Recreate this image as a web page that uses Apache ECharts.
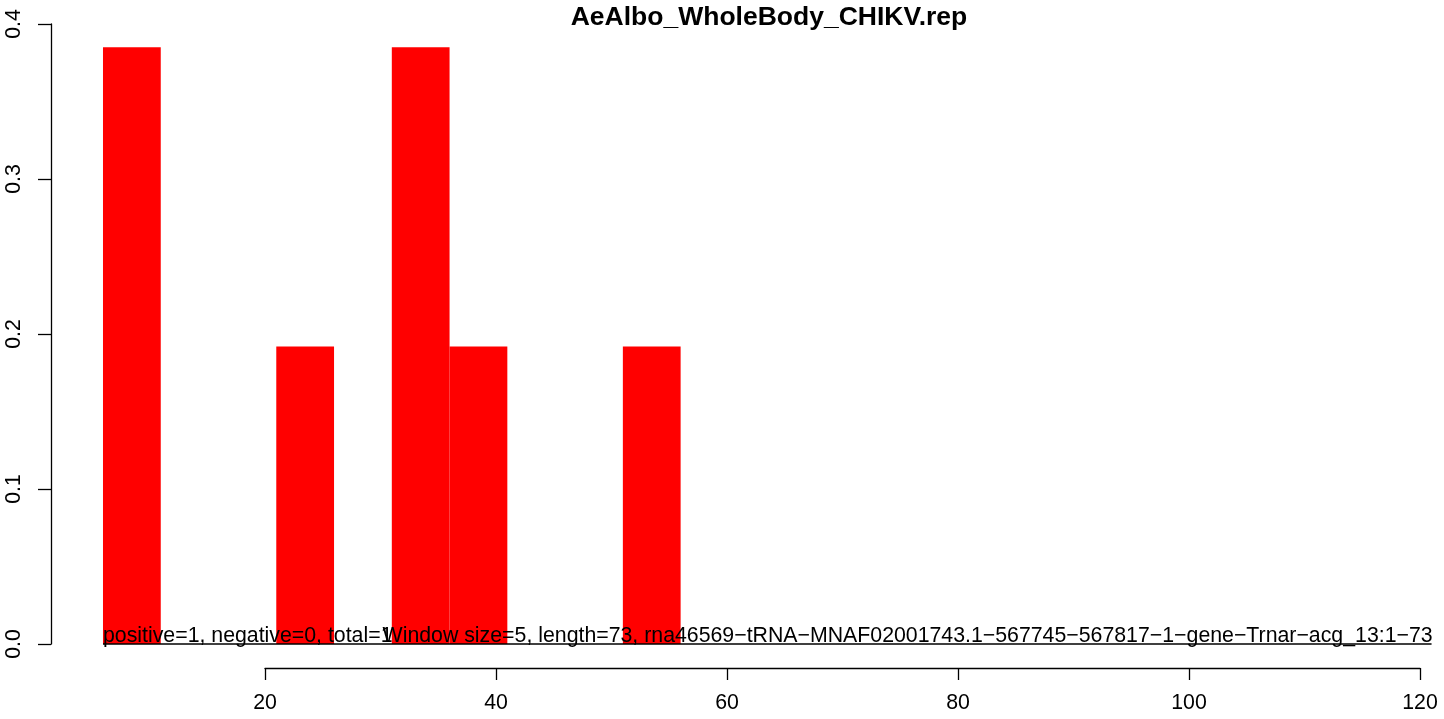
<!DOCTYPE html>
<html>
<head>
<meta charset="utf-8">
<script src="https://cdn.jsdelivr.net/npm/echarts@6/dist/echarts.min.js"></script>
<style>
  html, body { margin: 0; padding: 0; background: #fff; }
  #main { width: 1444px; height: 719px; }
</style>
</head>
<body>
<div id="main"></div>
<script>
// histogram bins (window size 5)
const binStart = [6, 21, 31, 36, 51];
const binWidth = 5;
const binHeight = [0.385, 0.192, 0.385, 0.192, 0.192];
const xTicks = [20, 40, 60, 80, 100, 120];
const yTicks = [0, 0.1, 0.2, 0.3, 0.4];
const baseLine = [[6, 121, 0]];
const title = 'AeAlbo_WholeBody_CHIKV.rep';
const note1 = 'positive=1, negative=0, total=1';
const note1X = 6;
const note2 = 'Window size=5, length=73, rna46569\u2212tRNA\u2212MNAF02001743.1\u2212567745\u2212567817\u22121\u2212gene\u2212Trnar\u2212acg_13:1\u221273';
const note2X = 30.2;

const FONT = '"Liberation Sans", Arial, sans-serif';
const FS = 21.3;
const chart = echarts.init(document.getElementById('main'));

const bins = binStart.map((s, i) => [s, s + binWidth, binHeight[i]]);

chart.setOption({
  animation: false,
  backgroundColor: '#fff',
  textStyle: { fontFamily: FONT },
  title: {
    text: title,
    left: 764,
    top: -1,
    textAlign: 'center',
    textStyle: { fontFamily: FONT, fontWeight: 'bold', fontSize: 26.5, color: '#000' }
  },
  grid: [
    { left: 51, right: 24, top: 24, bottom: 75 },
    { left: 265, right: 24, top: 600, bottom: 51 }
  ],
  xAxis: [
    { type: 'value', gridIndex: 0, min: 1.5, max: 120, show: false },
    {
      type: 'value',
      gridIndex: 1,
      min: xTicks[0],
      max: xTicks[xTicks.length - 1],
      interval: 20,
      position: 'bottom',
      axisLine: { lineStyle: { color: '#000', width: 1.3 } },
      axisTick: { length: 12, lineStyle: { color: '#000', width: 1.3 } },
      splitLine: { show: false },
      axisLabel: { color: '#000', fontSize: FS, margin: 25, fontFamily: FONT }
    }
  ],
  yAxis: [
    {
      type: 'value',
      gridIndex: 0,
      min: yTicks[0],
      max: yTicks[yTicks.length - 1],
      interval: 0.1,
      axisLine: { show: true, lineStyle: { color: '#000', width: 1.3 } },
      axisTick: { show: true, length: 13, lineStyle: { color: '#000', width: 1.3 } },
      splitLine: { show: false },
      axisLabel: {
        color: '#000', fontSize: FS, rotate: 90, margin: 26, fontFamily: FONT,
        formatter: v => v.toFixed(1)
      }
    },
    { type: 'value', gridIndex: 1, show: false }
  ],
  series: [
    {
      type: 'custom',
      xAxisIndex: 0,
      yAxisIndex: 0,
      data: bins,
      renderItem: function (params, api) {
        const p0 = api.coord([api.value(0), 0]);
        const p1 = api.coord([api.value(1), api.value(2)]);
        return {
          type: 'rect',
          shape: { x: p0[0], y: p1[1], width: p1[0] - p0[0], height: p0[1] - p1[1] },
          style: { fill: '#ff0000' }
        };
      }
    },
    {
      type: 'custom',
      xAxisIndex: 0,
      yAxisIndex: 0,
      data: baseLine,
      z: 5,
      renderItem: function (params, api) {
        const a = api.coord([api.value(0), api.value(2)]);
        const b = api.coord([api.value(1), api.value(2)]);
        return {
          type: 'line',
          shape: { x1: a[0], y1: a[1], x2: b[0], y2: b[1] },
          style: { stroke: '#000', lineWidth: 1.3 }
        };
      }
    }
  ]
});

const p1 = chart.convertToPixel({ xAxisIndex: 0, yAxisIndex: 0 }, [note1X, 0]);
const p2 = chart.convertToPixel({ xAxisIndex: 0, yAxisIndex: 0 }, [note2X, 0]);
chart.setOption({
  graphic: [
    { type: 'text', left: p1[0], top: p1[1] - 18, z: 10,
      style: { text: note1, font: FS + 'px ' + FONT, fill: '#000' } },
    { type: 'text', left: p2[0], top: p2[1] - 18, z: 10,
      style: { text: note2, font: FS + 'px ' + FONT, fill: '#000' } }
  ]
});
</script>
</body>
</html>
